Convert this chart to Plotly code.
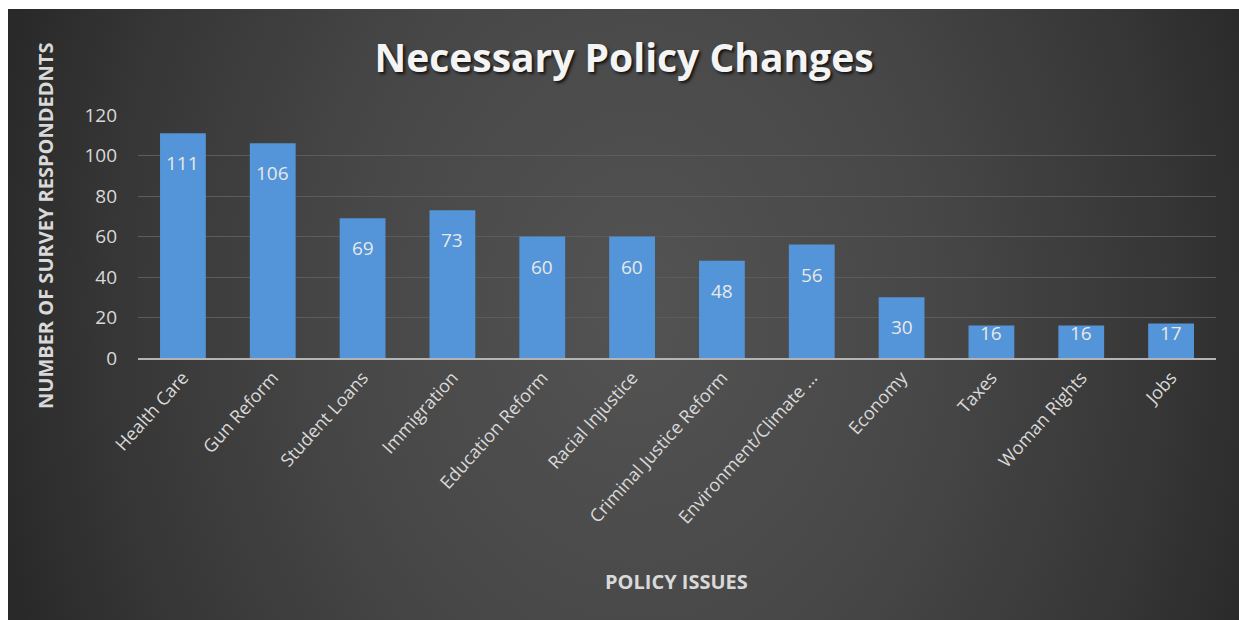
import base64
import plotly.graph_objects as go

# Survey results
categories = [
    "Health Care", "Gun Reform", "Student Loans", "Immigration",
    "Education Reform", "Racial Injustice", "Criminal Justice Reform",
    "Environment/Climate …", "Economy", "Taxes", "Woman Rights", "Jobs",
]
respondents = [111, 106, 69, 73, 60, 60, 48, 56, 30, 16, 16, 17]
y_ticks = [0, 20, 40, 60, 80, 100, 120]

# Canvas and plot-area geometry (pixels)
W, H = 1239, 620
M_L, M_R, M_T, M_B = 138, 23, 115, 262
PW = W - M_L - M_R
PH = H - M_T - M_B
Y_MAX = 120


def paper_x(px):
    return (px - M_L) / PW


def paper_y(py):
    return (H - M_B - py) / PH


# Dark panel with a soft radial gradient, drawn as an SVG image behind the plot
PANEL_X0, PANEL_Y0 = 8, 9
panel_w, panel_h = W - PANEL_X0, H - PANEL_Y0
svg = f"""<svg xmlns="http://www.w3.org/2000/svg" width="{panel_w}" height="{panel_h}" viewBox="0 0 {panel_w} {panel_h}" preserveAspectRatio="none">
<defs>
<radialGradient id="g" gradientUnits="userSpaceOnUse" cx="630" cy="300" r="660"
 gradientTransform="translate(630 300) scale(1 1.3) translate(-630 -300)">
<stop offset="0" stop-color="#535353"/>
<stop offset="0.45" stop-color="#474747"/>
<stop offset="0.8" stop-color="#363636"/>
<stop offset="1" stop-color="#292929"/>
</radialGradient>
</defs>
<rect x="0" y="0" width="{panel_w}" height="{panel_h}" fill="url(#g)"/>
</svg>"""
bg_src = "data:image/svg+xml;base64," + base64.b64encode(svg.encode("utf-8")).decode("ascii")

LABEL_COLOR = "#d9d9d9"
FONT = "Open Sans"

fig = go.Figure(
    go.Bar(
        x=categories,
        y=respondents,
        marker=dict(color="#5395d8", line=dict(width=0)),
        hoverinfo="x+y",
    )
)

# Value labels just inside the top of each bar
annotations = []
for cat, val in zip(categories, respondents):
    bar_px = val * PH / Y_MAX
    shift = min(30, max(7, bar_px - 25))
    annotations.append(dict(
        x=cat, y=val, xref="x", yref="y",
        text=str(val), showarrow=False,
        yanchor="middle", yshift=-shift,
        font=dict(family=FONT, size=19, color="#e8e8e8"),
    ))

# Axis titles
annotations.append(dict(
    x=paper_x(45), y=paper_y(226), xref="paper", yref="paper",
    text="<b>NUMBER OF SURVEY RESPONDEDNTS</b>", textangle=-90,
    showarrow=False, xanchor="center", yanchor="middle",
    font=dict(family=FONT, size=20, color=LABEL_COLOR),
))
annotations.append(dict(
    x=paper_x(676), y=paper_y(581), xref="paper", yref="paper",
    text="<b>POLICY ISSUES</b>",
    showarrow=False, xanchor="center", yanchor="middle",
    font=dict(family=FONT, size=20, color=LABEL_COLOR),
))

fig.update_layout(
    width=W, height=H,
    margin=dict(l=M_L, r=M_R, t=M_T, b=M_B, autoexpand=False),
    paper_bgcolor="white",
    plot_bgcolor="rgba(0,0,0,0)",
    bargap=0.49,
    showlegend=False,
    title=dict(
        text="<b>Necessary Policy Changes</b>",
        x=624 / W, y=1 - 58 / H, xref="container", yref="container",
        xanchor="center", yanchor="middle",
        font=dict(family=FONT, size=39, color="#f4f4f4",
                  shadow="2px 2px 3px rgba(0,0,0,0.75)"),
    ),
    images=[dict(
        source=bg_src, xref="paper", yref="paper",
        x=paper_x(PANEL_X0), y=paper_y(PANEL_Y0),
        sizex=panel_w / PW, sizey=panel_h / PH,
        xanchor="left", yanchor="top", sizing="stretch", layer="below",
    )],
    annotations=annotations,
    xaxis=dict(
        range=[-0.5, len(categories) - 0.5],
        showline=True, linecolor="#b4b4b4", linewidth=2,
        showgrid=False, zeroline=False, ticks="",
        tickangle=-48,
        tickfont=dict(family=FONT, size=18, color=LABEL_COLOR),
        fixedrange=True,
    ),
    yaxis=dict(
        range=[0, Y_MAX], tickvals=y_ticks,
        showgrid=True, gridcolor="#5c5c5c", gridwidth=1,
        zeroline=False, showline=False, ticks="",
        ticklabelstandoff=20,
        tickfont=dict(family=FONT, size=19, color=LABEL_COLOR),
        fixedrange=True,
    ),
)

fig.write_html("out.html")
